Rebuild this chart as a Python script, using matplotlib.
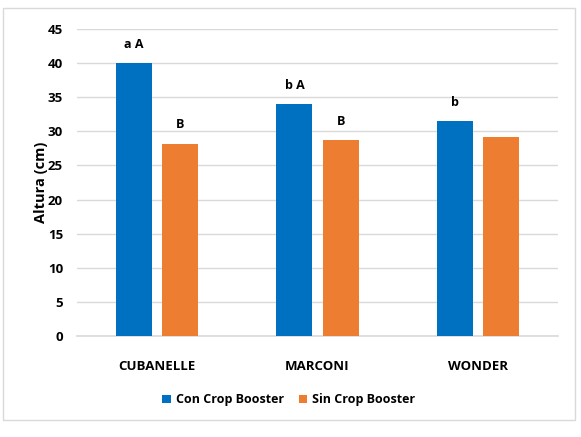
import matplotlib.pyplot as plt
import numpy as np
from matplotlib.patches import Rectangle

plt.rcParams['font.family'] = ['Open Sans', 'DejaVu Sans']

categorias = ['CUBANELLE', 'MARCONI', 'WONDER']
con_booster = [40.0, 34.0, 31.5]
sin_booster = [28.2, 28.7, 29.1]
letras_con = ['a A', 'b A', 'b']
letras_sin = ['B', 'B', '']

fig = plt.figure(figsize=(5.81, 4.37), dpi=100)
fig.patches.append(Rectangle((3/581, 1-420/437), 572/581, 412/437, transform=fig.transFigure,
                             fill=False, edgecolor='#d9d9d9', lw=1.0))
ax = fig.add_axes([77/581, 1-336/437, 481/581, 307/437])

x = np.arange(len(categorias))
w = 0.225
off = 0.144
b1 = ax.bar(x - off, con_booster, w, color='#0070C0', label='Con Crop Booster', zorder=3)
b2 = ax.bar(x + off, sin_booster, w, color='#ED7D31', label='Sin Crop Booster', zorder=3)

for xi, v, t in zip(x - off, con_booster, letras_con):
    ax.text(xi, v + 1.8, t, ha='center', va='bottom', fontsize=9, fontweight='bold')
for xi, v, t in zip(x + off, sin_booster, letras_sin):
    if t:
        ax.text(xi, v + 1.8, t, ha='center', va='bottom', fontsize=9, fontweight='bold')

ax.set_xlim(-0.5, 2.5)
ax.set_ylim(0, 45)
ax.set_yticks(range(0, 46, 5))
ax.grid(axis='y', color='#d9d9d9', lw=1.0, zorder=0)
for s in ['top', 'right', 'left']:
    ax.spines[s].set_visible(False)
ax.spines['bottom'].set_color('#d9d9d9')
ax.spines['bottom'].set_linewidth(1.2)
ax.tick_params(axis='both', length=0, labelsize=9.5)
ax.tick_params(axis='x', pad=17)
ax.tick_params(axis='y', pad=10)
ax.set_xticks(x)
ax.set_xticklabels(categorias, fontweight='bold')
for lab in ax.get_yticklabels():
    lab.set_fontweight('bold')
ax.set_ylabel('Altura (cm)', fontsize=10.5, fontweight='bold', labelpad=0)

ax.legend(loc='upper center', bbox_to_anchor=(0.44, -0.15), ncol=2, frameon=False,
          handlelength=0.7, handleheight=0.7, handletextpad=0.4, columnspacing=1.2,
          prop={'weight': 'bold', 'size': 9})

fig.savefig('out.png', dpi=100)
